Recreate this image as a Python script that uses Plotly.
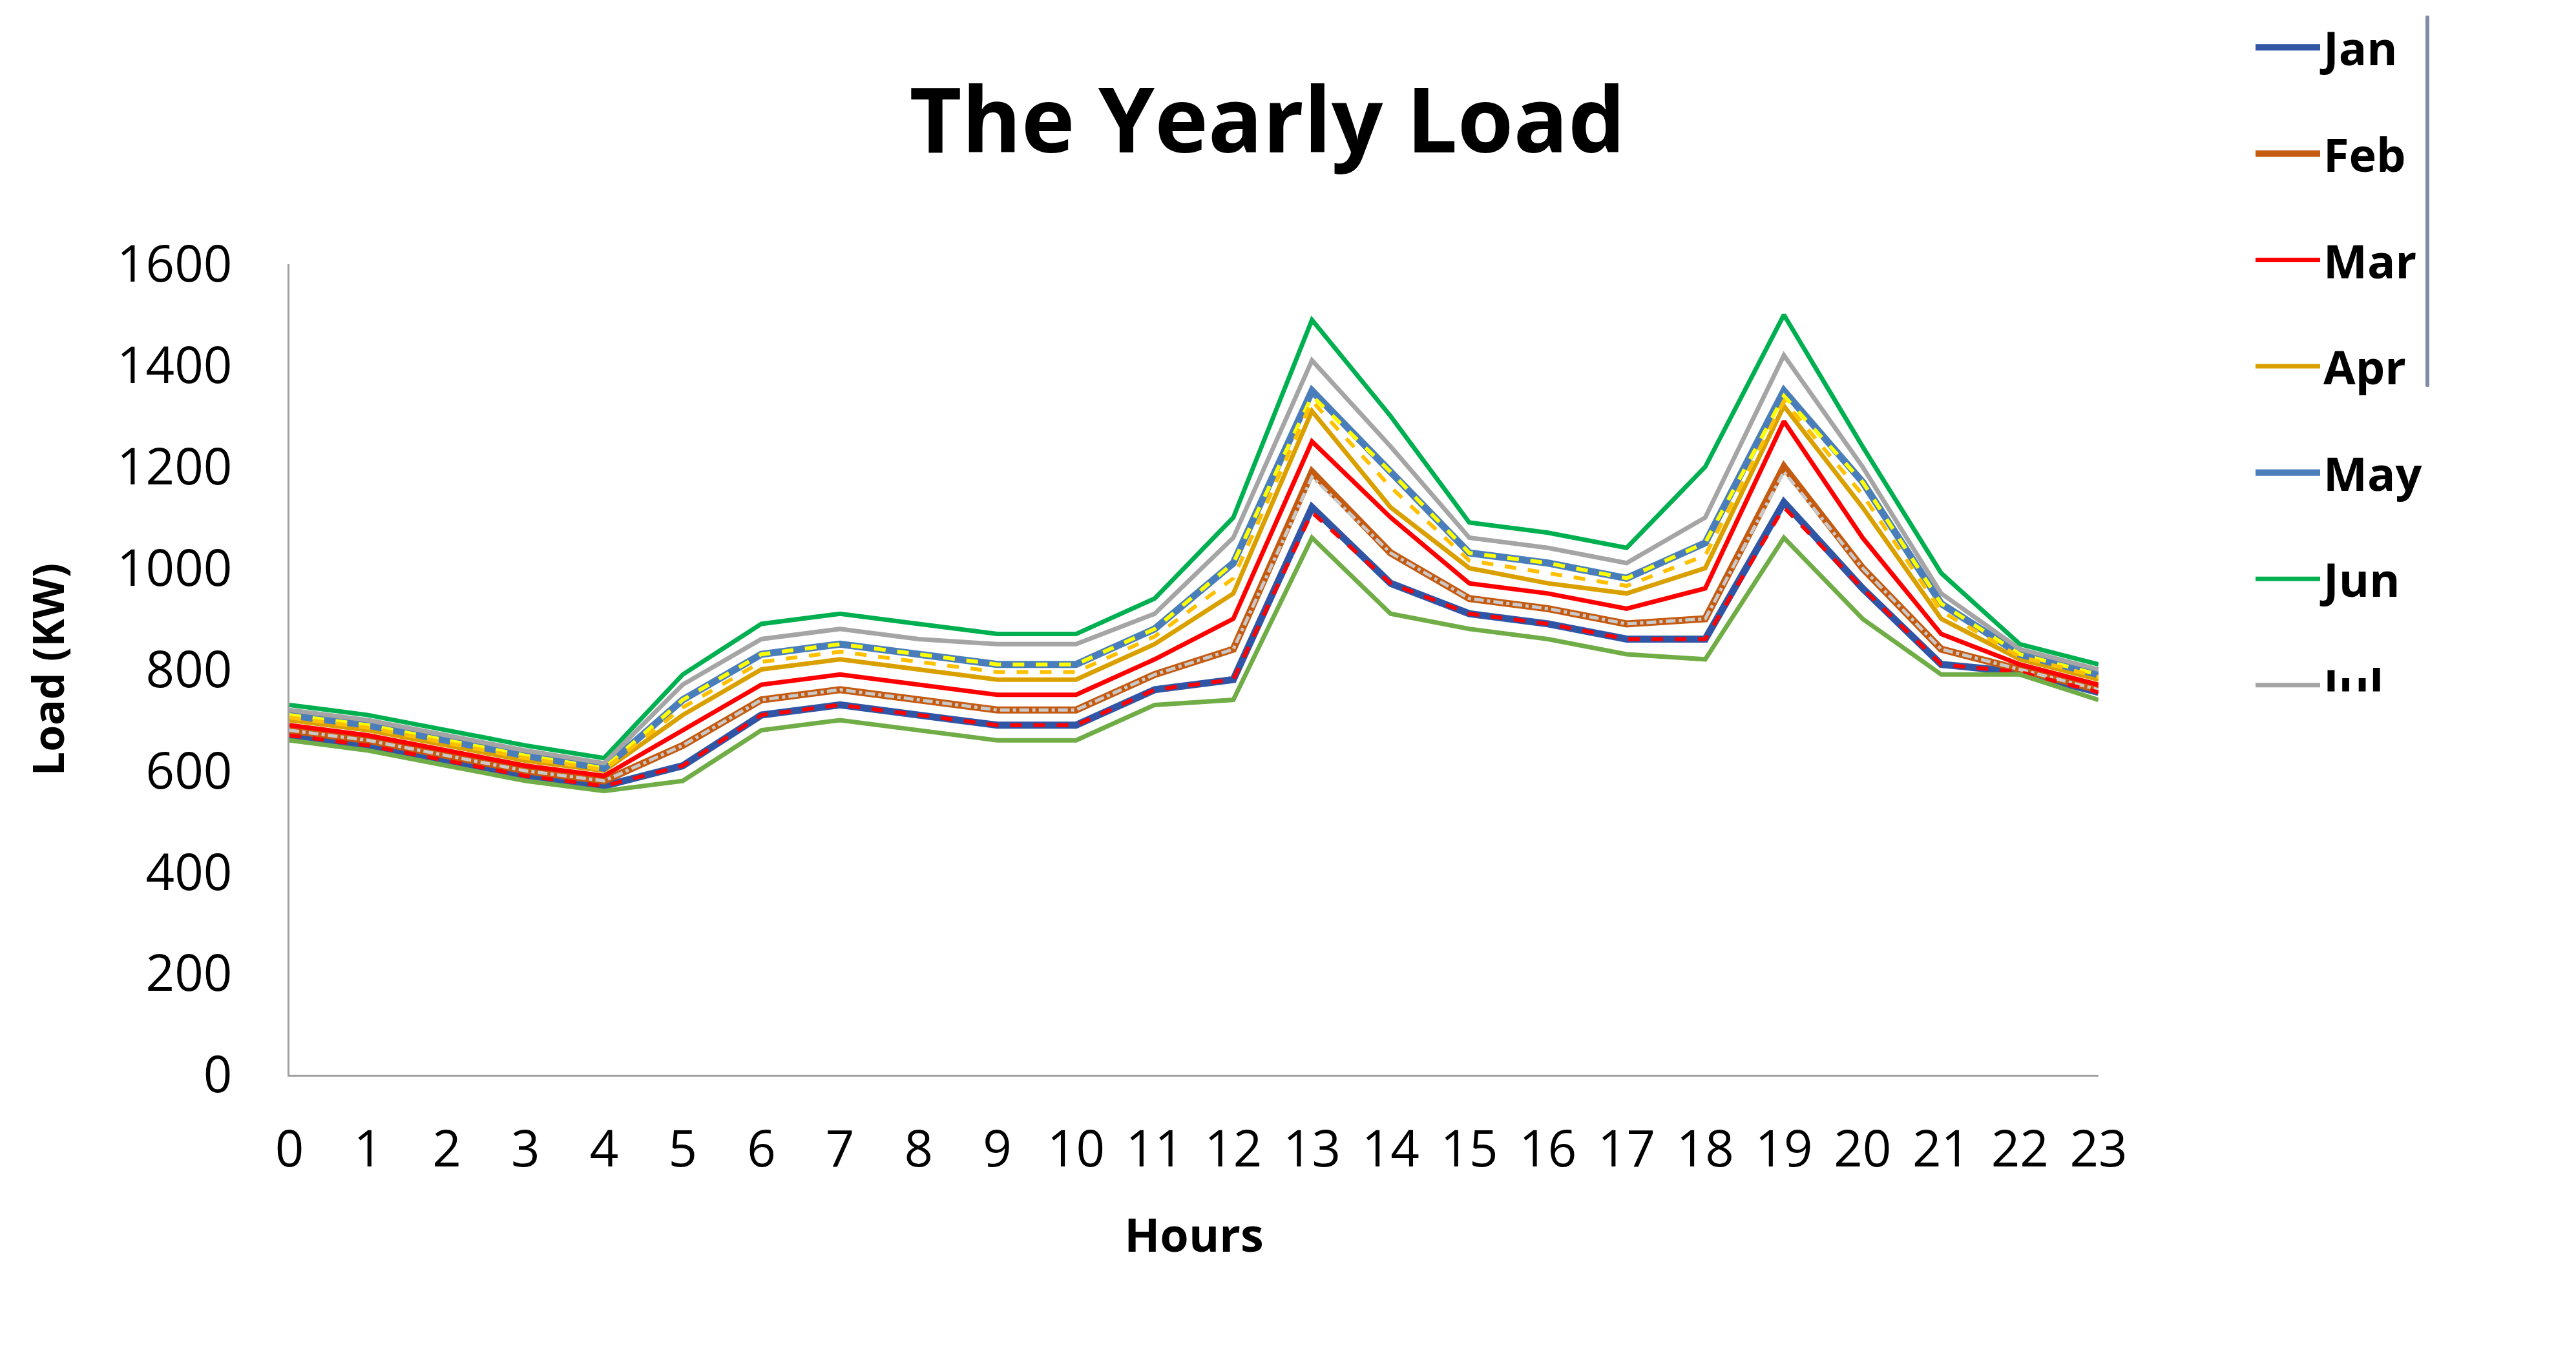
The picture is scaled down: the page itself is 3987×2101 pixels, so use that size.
import plotly.graph_objects as go

hours = list(range(24))

jan = [670, 650, 620, 590, 570, 610, 710, 730, 710, 690, 690, 760, 780, 1120, 970, 910, 890, 860, 860, 1130, 960, 810, 795, 755]
feb = [680, 660, 630, 600, 580, 650, 740, 760, 740, 720, 720, 790, 840, 1190, 1030, 940, 920, 890, 900, 1200, 1000, 840, 800, 760]
mar = [690, 670, 640, 610, 590, 680, 770, 790, 770, 750, 750, 820, 900, 1250, 1100, 970, 950, 920, 960, 1290, 1060, 870, 810, 770]
apr = [700, 680, 650, 620, 600, 710, 800, 820, 800, 780, 780, 850, 950, 1310, 1120, 1000, 970, 950, 1000, 1320, 1120, 900, 820, 780]
may = [710, 690, 660, 630, 605, 740, 830, 850, 830, 810, 810, 880, 1010, 1350, 1190, 1030, 1010, 980, 1050, 1350, 1170, 930, 830, 790]
jun = [730, 710, 680, 650, 625, 790, 890, 910, 890, 870, 870, 940, 1100, 1490, 1300, 1090, 1070, 1040, 1200, 1500, 1240, 990, 850, 810]
jul = [720, 700, 670, 640, 615, 770, 860, 880, 860, 850, 850, 910, 1060, 1410, 1240, 1060, 1040, 1010, 1100, 1420, 1200, 950, 840, 800]
aug = [710, 690, 660, 630, 605, 740, 830, 850, 830, 810, 810, 880, 1010, 1340, 1190, 1030, 1010, 980, 1050, 1340, 1170, 930, 830, 790]
sep = [705, 685, 655, 625, 602, 725, 815, 835, 815, 795, 795, 865, 980, 1330, 1160, 1015, 990, 965, 1025, 1330, 1145, 915, 825, 785]
oct_ = [680, 660, 630, 600, 580, 650, 740, 760, 740, 720, 720, 790, 840, 1180, 1030, 940, 920, 890, 900, 1190, 1000, 840, 800, 760]
nov = [670, 650, 620, 590, 570, 610, 710, 730, 710, 690, 690, 760, 780, 1110, 970, 910, 890, 860, 860, 1120, 960, 810, 795, 755]
dec = [660, 640, 610, 580, 560, 580, 680, 700, 680, 660, 660, 730, 740, 1060, 910, 880, 860, 830, 820, 1060, 900, 790, 790, 740]

months = ["Jan", "Feb", "Mar", "Apr", "May", "Jun", "Jul", "Aug", "Sep", "Oct", "Nov", "Dec"]
series = [jan, feb, mar, apr, may, jun, jul, aug, sep, oct_, nov, dec]
colors = ["#2f55a4", "#c55a11", "#ff0000", "#d9a000", "#4a7ebb", "#00b050",
          "#a5a5a5", "#ffff00", "#ffc000", "#c9c9c9", "#ff0000", "#70ad47"]
dashes = ["solid", "solid", "solid", "solid", "solid", "solid",
          "solid", "dash", "dash", "dashdot", "dash", "solid"]
widths = [11, 11, 7, 7, 11, 7, 7, 6, 6, 5, 6, 7]

fig = go.Figure()
for name, ys, c, d, w in zip(months, series, colors, dashes, widths):
    fig.add_trace(go.Scatter(x=hours, y=ys, mode="lines", name=f"<b>{name}</b>",
                             legendgroup=name,
                             line=dict(color=c, dash=d, width=w)))

font = "Open Sans"
fig.update_layout(
    width=3987, height=2101,
    paper_bgcolor="white", plot_bgcolor="white",
    margin=dict(l=440, r=747, t=394, b=445),
    title=dict(text="<b>The Yearly Load</b>", x=0.49, xanchor="center",
               y=0.915, yanchor="middle",
               font=dict(family=font, size=140, color="black")),
    legend=dict(x=1.085, y=1.31, xanchor="left", yanchor="top",
                font=dict(family=font, size=72, color="black"),
                tracegroupgap=68, itemwidth=100),
    font=dict(family=font, color="black"),
)
fig.update_xaxes(range=[0, 23], tickmode="array", tickvals=hours,
                 showgrid=False, zeroline=False, showline=True,
                 linecolor="#a0a0a0", linewidth=3, ticks="",
                 ticklabelstandoff=45,
                 tickfont=dict(size=78, color="black"),
                 title=dict(text="<b>Hours</b>", font=dict(size=72), standoff=60))
fig.update_yaxes(range=[0, 1600], dtick=200, showgrid=False, zeroline=False,
                 showline=True, linecolor="#a0a0a0", linewidth=3, ticks="",
                 ticklabelstandoff=70,
                 tickfont=dict(size=78, color="black"),
                 title=dict(text="<b>Load (KW)</b>", font=dict(size=66), standoff=60))

fig.write_html("out.html")
